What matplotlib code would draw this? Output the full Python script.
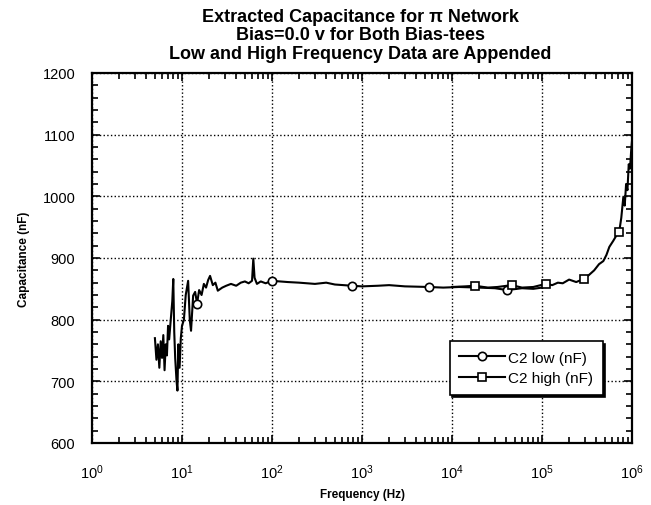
import numpy as np
import matplotlib.pyplot as plt
from matplotlib.ticker import LogLocator, MultipleLocator, FixedLocator, NullFormatter

plt.rcParams['font.family'] = ['Liberation Sans', 'DejaVu Sans']
plt.rcParams['mathtext.fontset'] = 'custom'
plt.rcParams['mathtext.rm'] = 'Liberation Sans'
plt.rcParams['mathtext.default'] = 'regular'

# low frequency sweep (Hz, nF)
low_freq = [5.0, 5.2, 5.4, 5.6, 5.8, 6.0, 6.2, 6.4, 6.6, 6.8, 7.0, 7.2, 7.5, 7.8,
            8.0, 8.2, 8.4, 8.7, 8.9, 9.1, 9.4, 9.7, 10.0, 10.5, 11.0, 11.7, 12.2,
            12.6, 13.3, 14.0, 14.7, 15.5, 16.5, 17.5, 18.5, 19.5, 20.5, 22.0,
            23.5, 25.0, 28.0, 31.0, 35.0, 40.0, 45.0, 50.0, 55.0, 60.0, 62.0,
            64.0, 68.0, 75.0, 85.0, 100.0, 150.0, 200.0, 300.0, 400.0, 500.0,
            775.0, 1000.0, 1500.0, 2000.0, 3000.0, 5500.0, 8000.0, 12000.0,
            20000.0, 30000.0, 41000.0, 60000.0, 80000.0, 100000.0]
low_cap = [770, 735, 760, 722, 765, 738, 775, 718, 760, 742, 790, 768, 800, 830,
           866, 780, 738, 700, 685, 760, 722, 770, 790, 800, 840, 863, 800,
           782, 839, 845, 826, 848, 840, 858, 852, 864, 871, 856,
           860, 847, 852, 855, 858, 855, 860, 862, 859, 863, 899,
           868, 858, 862, 859, 863, 861, 860, 858, 860, 857,
           855, 854, 855, 856, 854, 853, 852, 853,
           852, 851, 848, 851, 850, 852]
low_marks = [14.7, 100.0, 775.0, 5500.0, 41000.0]

# high frequency sweep (Hz, nF)
high_freq = [10000.0, 14000.0, 18000.0, 25000.0, 32000.0, 46000.0, 60000.0,
             80000.0, 110000.0, 130000.0, 150000.0, 170000.0, 200000.0,
             240000.0, 290000.0, 330000.0, 380000.0, 430000.0, 480000.0,
             520000.0, 560000.0, 620000.0, 680000.0, 720000.0, 760000.0,
             800000.0, 830000.0, 860000.0, 890000.0, 920000.0, 950000.0,
             980000.0, 1000000.0]
high_cap = [853, 854, 855, 852, 853, 856, 852, 853, 858, 856, 860, 859, 865,
            861, 866, 872, 880, 890, 895, 905, 918, 928, 938, 942, 965,
            998, 985, 1020, 1010, 1052, 1045, 1075, 1090]
high_marks = [18000.0, 46000.0, 110000.0, 290000.0, 720000.0]

fig = plt.figure(figsize=(6.51, 5.06), dpi=100)
ax = fig.add_axes([92 / 651, 1 - 444 / 506, 540 / 651, 370 / 506])

ax.plot(low_freq, low_cap, color='black', lw=1.5, marker='o', ms=6,
        mfc='white', mec='black', mew=1.2,
        markevery=[low_freq.index(m) for m in low_marks], label='C2 low (nF)')
ax.plot(high_freq, high_cap, color='black', lw=1.5, marker='s', ms=6,
        mfc='white', mec='black', mew=1.2,
        markevery=[high_freq.index(m) for m in high_marks], label='C2 high (nF)')

ax.set_xscale('log')
ax.set_xlim(1, 1e6)
ax.set_ylim(600, 1200)

ax.xaxis.set_major_locator(FixedLocator([10.0 ** k for k in range(7)]))
ax.xaxis.set_minor_locator(LogLocator(base=10, subs=np.arange(2, 10), numticks=20))
ax.xaxis.set_minor_formatter(NullFormatter())
ax.set_xticklabels([f'$10^{{{k}}}$' for k in range(7)])
ax.yaxis.set_major_locator(MultipleLocator(100))
ax.yaxis.set_minor_locator(MultipleLocator(20))

ax.tick_params(which='both', direction='in', top=True, right=True, width=1.2)
ax.tick_params(which='major', length=6)
ax.tick_params(which='minor', length=4)
ax.tick_params(axis='x', which='major', pad=14, labelsize=10.5)
ax.tick_params(axis='y', which='major', pad=12, labelsize=10.5)

ax.grid(True, which='major', linestyle=':', color='black', lw=1.0)
for s in ax.spines.values():
    s.set_linewidth(1.6)

ax.set_xlabel('Frequency (Hz)', fontsize=8.5, fontweight='bold', labelpad=5)
ax.set_ylabel('Capacitance (nF)', fontsize=8.5, fontweight='bold', labelpad=9)

fig.text(0.553, 0.982,
         'Extracted Capacitance for \u03c0 Network\n'
         'Bias=0.0 v for Both Bias-tees\n'
         'Low and High Frequency Data are Appended',
         ha='center', va='top', fontsize=13, fontweight='bold', linespacing=1.1)

leg = ax.legend(loc='lower left', bbox_to_anchor=(0.648, 0.11), fontsize=11,
                frameon=True, fancybox=False, edgecolor='black', framealpha=1,
                shadow={'color': 'black', 'alpha': 1}, handlelength=3.0,
                handletextpad=0.25, borderpad=0.6, labelspacing=0.45)
leg.get_frame().set_linewidth(1.2)

fig.savefig('out.png', dpi=100)
